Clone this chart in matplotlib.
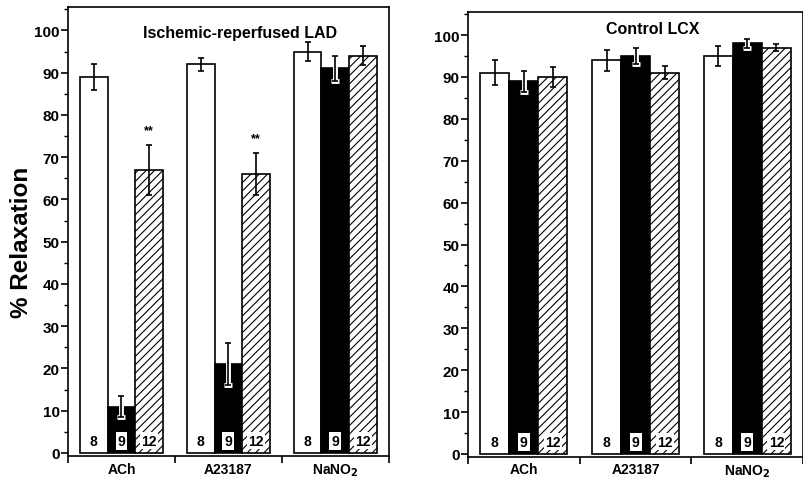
import numpy as np
import matplotlib
matplotlib.use('Agg')
import matplotlib.pyplot as plt
from matplotlib.ticker import MultipleLocator

plt.rcParams['font.family'] = ['Liberation Sans', 'DejaVu Sans']
plt.rcParams['font.weight'] = 'bold'
plt.rcParams['axes.labelweight'] = 'bold'
plt.rcParams['mathtext.default'] = 'bf'
plt.rcParams['hatch.linewidth'] = 0.8

groups = ['ACh', 'A23187', 'NaNO$_2$']
n_labels = ['8', '9', '12']
y_ticks = [0, 10, 20, 30, 40, 50, 60, 70, 80, 90, 100]

lad_white = [89, 92, 95]
lad_white_err = [3, 1.5, 2.3]
lad_black = [11, 21, 91]
lad_black_err = [2.5, 5, 3]
lad_hatch = [67, 66, 94]
lad_hatch_err = [6, 5, 2.2]
lad_sig = ['**', '**', '']

lcx_white = [91, 94, 95]
lcx_white_err = [3, 2.5, 2.3]
lcx_black = [89, 95, 98]
lcx_black_err = [2.5, 2, 1]
lcx_hatch = [90, 91, 97]
lcx_hatch_err = [2.3, 1.5, 0.8]
lcx_sig = ['', '', '']

W = 0.26


def draw_panel(ax, white, white_err, black, black_err, hatch, hatch_err, sig,
               title, title_xy):
    x = np.arange(len(groups))
    ax.bar(x - W, white, W, color='white', edgecolor='black', lw=1.2)
    ax.bar(x, black, W, color='black', edgecolor='black', lw=1.2)
    ax.bar(x + W, hatch, W, color='white', edgecolor='black', lw=1.2, hatch='////')

    ekw = dict(fmt='none', ecolor='black', elinewidth=1.2, capsize=2.5, capthick=1.2)
    ax.errorbar(x - W, white, yerr=white_err, **ekw)
    ax.errorbar(x + W, hatch, yerr=hatch_err, **ekw)
    # error bars on the black bars: white outline so they show inside the bar
    ax.errorbar(x, black, yerr=black_err, fmt='none', ecolor='white',
                elinewidth=3.5, capsize=3, capthick=3.5)
    ax.errorbar(x, black, yerr=black_err, **ekw)

    for i in range(len(groups)):
        ax.text(x[i] - W, 2.9, n_labels[0], ha='center', va='center', fontsize=10)
        ax.text(x[i], 2.9, n_labels[1], ha='center', va='center', fontsize=10,
                bbox=dict(boxstyle='square,pad=0.15', fc='white', ec='none'))
        ax.text(x[i] + W, 2.9, n_labels[2], ha='center', va='center', fontsize=10,
                bbox=dict(boxstyle='square,pad=0.1', fc='white', ec='none'))
        if sig[i]:
            ax.text(x[i] + W, hatch[i] + hatch_err[i] + 3.5, sig[i],
                    ha='center', va='center', fontsize=9)

    ax.set_xlim(-0.5, 2.5)
    ax.set_ylim(-0.7, 105.5)
    ax.set_yticks(y_ticks, labels=[str(v) for v in y_ticks], fontweight='bold')
    ax.yaxis.set_minor_locator(MultipleLocator(5))
    ax.set_xticks([-0.5, 0.5, 1.5, 2.5])
    ax.set_xticklabels([])
    ax.set_xticks(x, minor=True)
    ax.set_xticklabels(groups, minor=True, fontsize=10, fontweight='bold')
    ax.tick_params(axis='x', which='minor', length=0, pad=4)
    ax.tick_params(axis='x', which='major', length=5, width=1.2)
    ax.tick_params(axis='y', which='major', length=5, width=1.2, labelsize=11, pad=1)
    ax.tick_params(axis='y', which='minor', length=3, width=1)
    for s in ax.spines.values():
        s.set_linewidth(1.2)
    ax.text(title_xy[0], title_xy[1], title, transform=ax.transAxes,
            ha='center', va='center', fontsize=11.5, fontweight='bold')


fig = plt.figure(figsize=(8.04, 4.81), dpi=100)
ax1 = fig.add_axes([0.0846, 0.050, 0.399, 0.933])
ax2 = fig.add_axes([0.582, 0.048, 0.417, 0.925])

draw_panel(ax1, lad_white, lad_white_err, lad_black, lad_black_err,
           lad_hatch, lad_hatch_err, lad_sig, 'Ischemic-reperfused LAD', (0.536, 0.944))
draw_panel(ax2, lcx_white, lcx_white_err, lcx_black, lcx_black_err,
           lcx_hatch, lcx_hatch_err, lcx_sig, 'Control LCX', (0.552, 0.962))

ax1.set_ylabel('% Relaxation', fontsize=17.5, fontweight='bold')
ax1.yaxis.set_label_coords(-0.109, 0.479)

fig.savefig('out.png', dpi=100)
